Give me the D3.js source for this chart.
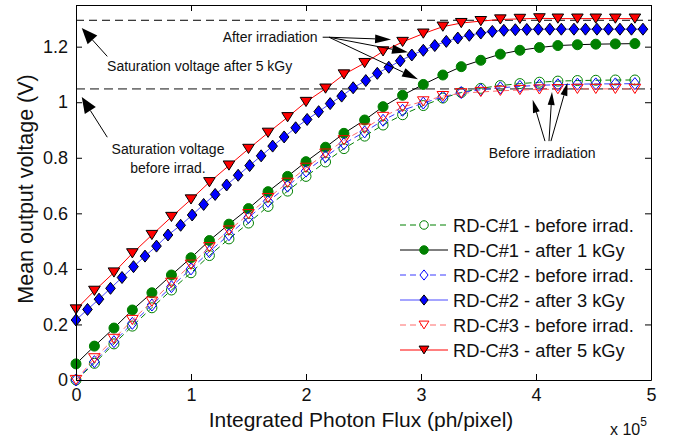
<!DOCTYPE html>
<html>
<head>
<meta charset="utf-8">
<script src="https://cdn.jsdelivr.net/npm/d3@7"></script>
<style>
  body { margin: 0; background: #fff; }
  svg { display: block; font-family: "Liberation Sans", Arial, sans-serif; }
</style>
</head>
<body>
<svg id="chart" width="680" height="439"></svg>
<script>
// photon flux (x 1e5 ph/pixel) for the 30-point series
const fluxA = [0, 0.16, 0.33, 0.49, 0.66, 0.83, 1.0, 1.16, 1.33, 1.5, 1.67, 1.84, 2.0, 2.17, 2.33,
  2.51, 2.67, 2.84, 3.02, 3.19, 3.35, 3.52, 3.69, 3.86, 4.03, 4.19, 4.36, 4.52, 4.69, 4.86];
// photon flux for the denser RD-C#2 after 3 kGy series
const fluxB = [0, 0.10, 0.20, 0.30, 0.40, 0.50, 0.60, 0.70, 0.80, 0.91, 1.01, 1.11, 1.21, 1.31, 1.41,
  1.51, 1.61, 1.71, 1.81, 1.91, 2.01, 2.11, 2.21, 2.31, 2.41, 2.52, 2.62, 2.72, 2.82, 2.92,
  3.02, 3.12, 3.22, 3.32, 3.42, 3.52, 3.62, 3.72, 3.82, 3.92, 4.02, 4.12, 4.22, 4.33, 4.43,
  4.53, 4.63, 4.73, 4.83, 4.93];

// mean output voltage (V)
const c1Before = [0.0, 0.06, 0.13, 0.194, 0.26, 0.324, 0.386, 0.448, 0.508, 0.565, 0.625, 0.68, 0.733, 0.785, 0.833,
  0.878, 0.918, 0.955, 0.988, 1.015, 1.035, 1.05, 1.06, 1.067, 1.072, 1.076, 1.078, 1.079, 1.08, 1.08];
const c1After = [0.058, 0.122, 0.187, 0.252, 0.314, 0.378, 0.44, 0.502, 0.561, 0.617, 0.678, 0.733, 0.786, 0.838, 0.888,
  0.936, 0.984, 1.025, 1.064, 1.098, 1.128, 1.151, 1.173, 1.187, 1.197, 1.204, 1.207, 1.209, 1.21, 1.211];
const c2Before = [0.0, 0.066, 0.138, 0.204, 0.27, 0.336, 0.40, 0.462, 0.523, 0.585, 0.643, 0.698, 0.752, 0.804, 0.851,
  0.893, 0.935, 0.971, 0.997, 1.019, 1.035, 1.045, 1.052, 1.057, 1.061, 1.063, 1.065, 1.066, 1.066, 1.067];
const c2After = [0.216, 0.254, 0.291, 0.33, 0.369, 0.408, 0.446, 0.482, 0.522, 0.557,
  0.594, 0.632, 0.668, 0.702, 0.737, 0.772, 0.807, 0.842, 0.875, 0.908,
  0.938, 0.966, 0.995, 1.022, 1.052, 1.078, 1.104, 1.126, 1.149, 1.170,
  1.187, 1.204, 1.219, 1.231, 1.241, 1.249, 1.255, 1.259, 1.261, 1.262,
  1.263, 1.263, 1.263, 1.263, 1.263, 1.263, 1.263, 1.263, 1.263, 1.263];
const c3Before = [0.0, 0.078, 0.148, 0.216, 0.282, 0.35, 0.415, 0.478, 0.538, 0.597, 0.655, 0.71, 0.764, 0.815, 0.863,
  0.905, 0.947, 0.983, 1.003, 1.022, 1.032, 1.037, 1.041, 1.044, 1.046, 1.047, 1.048, 1.048, 1.048, 1.048];
const c3After = [0.254, 0.321, 0.387, 0.456, 0.522, 0.587, 0.65, 0.712, 0.772, 0.832, 0.89, 0.946, 1.001, 1.049, 1.10,
  1.141, 1.183, 1.217, 1.247, 1.272, 1.285, 1.292, 1.298, 1.300, 1.302, 1.301, 1.301, 1.301, 1.301, 1.301];

const seriesNames = ["RD-C#1 - before irrad.", "RD-C#1 - after 1 kGy", "RD-C#2 - before irrad.",
  "RD-C#2 - after 3 kGy", "RD-C#3 - before irrad.", "RD-C#3 - after 5 kGy"];

const xTicks = [0, 1, 2, 3, 4, 5];
const yTicks = [0, 0.2, 0.4, 0.6, 0.8, 1, 1.2];

// saturation levels (V)
const satAfter = 1.295;
const satBefore = 1.048;

const FONT = "Liberation Sans, Arial, sans-serif";
const svg = d3.select("#chart");

const xScale = d3.scaleLinear().domain([0, 5]).range([76, 651]);
const yScale = d3.scaleLinear().domain([0, 1.35]).range([380, 5]);

// marker shapes
function shapePath(kind, small) {
  const k = small ? 0.85 : 1;
  if (kind === "circle") return d3.symbol(d3.symbolCircle, Math.PI * 25 * k * k)();
  if (kind === "diamond") {
    const w = 4.8 * k, h = 6 * k;
    return `M0,${-h}L${w},0L0,${h}L${-w},0Z`;
  }
  const w = 5.8 * k, h = 4.6 * k;
  return `M${-w},${-h}L${w},${-h}L0,${h}Z`;
}

const series = [
  { name: seriesNames[0], xs: fluxA, ys: c1Before, line: "#008000", dash: "6,4", shape: "circle", fill: "none", edge: "#008000" },
  { name: seriesNames[1], xs: fluxA, ys: c1After, line: "#000000", dash: null, shape: "circle", fill: "#008000", edge: "#008000" },
  { name: seriesNames[2], xs: fluxA, ys: c2Before, line: "#3a3aff", dash: "6,4", shape: "diamond", fill: "none", edge: "#0000ff" },
  { name: seriesNames[3], xs: fluxB, ys: c2After, line: "#4a4aff", dash: null, shape: "diamond", fill: "#0000ff", edge: "#000000" },
  { name: seriesNames[4], xs: fluxA, ys: c3Before, line: "#ff6a6a", dash: "6,4", shape: "tri", fill: "none", edge: "#ff0000" },
  { name: seriesNames[5], xs: fluxA, ys: c3After, line: "#ff0000", dash: null, shape: "tri", fill: "#ff0000", edge: "#000000" }
];

// saturation dashed lines
svg.append("line")
  .attr("x1", xScale(0)).attr("x2", xScale(5))
  .attr("y1", yScale(satAfter)).attr("y2", yScale(satAfter))
  .attr("stroke", "#000").attr("stroke-width", 1)
  .attr("stroke-dasharray", "8,5");
svg.append("line")
  .attr("x1", xScale(0)).attr("x2", xScale(5))
  .attr("y1", yScale(satBefore)).attr("y2", yScale(satBefore))
  .attr("stroke", "#777").attr("stroke-width", 1.6)
  .attr("stroke-dasharray", "9,5");

// series lines and markers
const lineGen = d3.line().x((d) => xScale(d[0])).y((d) => yScale(d[1]));
series.forEach((s) => {
  const pts = s.xs.map((v, i) => [v, s.ys[i]]);
  const g = svg.append("g");
  g.append("path")
    .attr("d", lineGen(pts))
    .attr("fill", "none")
    .attr("stroke", s.line)
    .attr("stroke-width", 1)
    .attr("stroke-dasharray", s.dash);
  g.selectAll("path.mk")
    .data(pts)
    .enter()
    .append("path")
    .attr("class", "mk")
    .attr("d", shapePath(s.shape, false))
    .attr("transform", (d) => `translate(${xScale(d[0])},${yScale(d[1])})`)
    .attr("fill", s.fill)
    .attr("stroke", s.edge)
    .attr("stroke-width", 1);
});

// axes (box with inward ticks)
const styleAxis = (g) => g.attr("font-family", FONT).attr("font-size", 18)
  .call((g) => g.selectAll("text").attr("fill", "#111"));

svg.append("g")
  .attr("transform", "translate(0,380)")
  .call(d3.axisBottom(xScale).tickValues(xTicks).tickSize(-6).tickSizeOuter(0).tickPadding(8).tickFormat(d3.format("d")))
  .call(styleAxis);
svg.append("g")
  .attr("transform", "translate(76,0)")
  .call(d3.axisLeft(yScale).tickValues(yTicks).tickSize(-6).tickSizeOuter(0).tickPadding(8).tickFormat(d3.format("~g")))
  .call(styleAxis);
svg.append("g")
  .attr("transform", "translate(0,5)")
  .call(d3.axisTop(xScale).tickValues(xTicks).tickSize(-6).tickSizeOuter(0).tickFormat(""));
svg.append("g")
  .attr("transform", "translate(651,0)")
  .call(d3.axisRight(yScale).tickValues(yTicks).tickSize(-6).tickSizeOuter(0).tickFormat(""));

// axis labels
svg.append("text")
  .attr("x", 361).attr("y", 427)
  .attr("text-anchor", "middle")
  .attr("font-size", 21)
  .attr("fill", "#111")
  .text("Integrated Photon Flux (ph/pixel)");
svg.append("text")
  .attr("transform", "translate(33,189) rotate(-90)")
  .attr("text-anchor", "middle")
  .attr("font-size", 21.5)
  .attr("fill", "#111")
  .text("Mean output voltage (V)");

// x 10^5 multiplier
const mult = svg.append("text").attr("x", 610).attr("y", 435).attr("font-size", 16).attr("fill", "#111");
mult.append("tspan").text("x 10");
mult.append("tspan").attr("dy", -9).attr("font-size", 12).text("5");

// annotations: arrow with filled head, coords in data units
function arrow(x1, y1, x2, y2, len, wid) {
  const px1 = xScale(x1), py1 = yScale(y1), px2 = xScale(x2), py2 = yScale(y2);
  const a = Math.atan2(py2 - py1, px2 - px1);
  const bx = px2 - len * Math.cos(a), by = py2 - len * Math.sin(a);
  const nx = -Math.sin(a) * wid / 2, ny = Math.cos(a) * wid / 2;
  svg.append("line")
    .attr("x1", px1).attr("y1", py1).attr("x2", bx).attr("y2", by)
    .attr("stroke", "#000").attr("stroke-width", 1);
  svg.append("path")
    .attr("d", `M${px2},${py2}L${bx + nx},${by + ny}L${bx - nx},${by - ny}Z`)
    .attr("fill", "#000");
}

const note = (xv, yv, str, anchor) => svg.append("text")
  .attr("x", xScale(xv)).attr("y", yScale(yv))
  .attr("text-anchor", anchor || "start")
  .attr("font-size", 14)
  .attr("fill", "#111")
  .text(str);

note(0.27, 1.112, "Saturation voltage after 5 kGy");
arrow(0.272, 1.165, 0.05, 1.267, 16, 13);

note(0.80, 0.813, "Saturation voltage", "middle");
note(0.80, 0.745, "before irrad.", "middle");
arrow(0.272, 0.874, 0.05, 1.019, 16, 13);

note(1.275, 1.218, "After irradiation");
svg.append("line")
  .attr("x1", xScale(2.145)).attr("x2", xScale(2.2))
  .attr("y1", yScale(1.234)).attr("y2", yScale(1.234))
  .attr("stroke", "#000");
arrow(2.2, 1.234, 2.74, 1.226, 16, 9);
arrow(2.2, 1.234, 2.887, 1.18, 16, 9);
arrow(2.2, 1.234, 2.974, 1.083, 16, 9);

note(3.59, 0.80, "Before irradiation");
arrow(4.078, 0.86, 3.971, 1.009, 13, 7);
arrow(4.113, 0.86, 4.139, 1.037, 13, 7);
arrow(4.13, 0.86, 4.274, 1.07, 13, 7);

// legend (no frame)
const legend = svg.append("g").attr("transform", "translate(400,225)");
series.forEach((s, i) => {
  const row = legend.append("g").attr("transform", `translate(0,${i * 25})`);
  row.append("line")
    .attr("x1", 0).attr("x2", 48)
    .attr("stroke", s.line).attr("stroke-width", 1)
    .attr("stroke-dasharray", s.dash);
  row.append("path")
    .attr("d", shapePath(s.shape, true))
    .attr("transform", "translate(24,0)")
    .attr("fill", s.fill === "none" ? "#fff" : s.fill)
    .attr("stroke", s.edge);
  row.append("text")
    .attr("x", 53).attr("y", 6.5)
    .attr("font-size", 18.3)
    .attr("fill", "#111")
    .text(s.name);
});
</script>
</body>
</html>
